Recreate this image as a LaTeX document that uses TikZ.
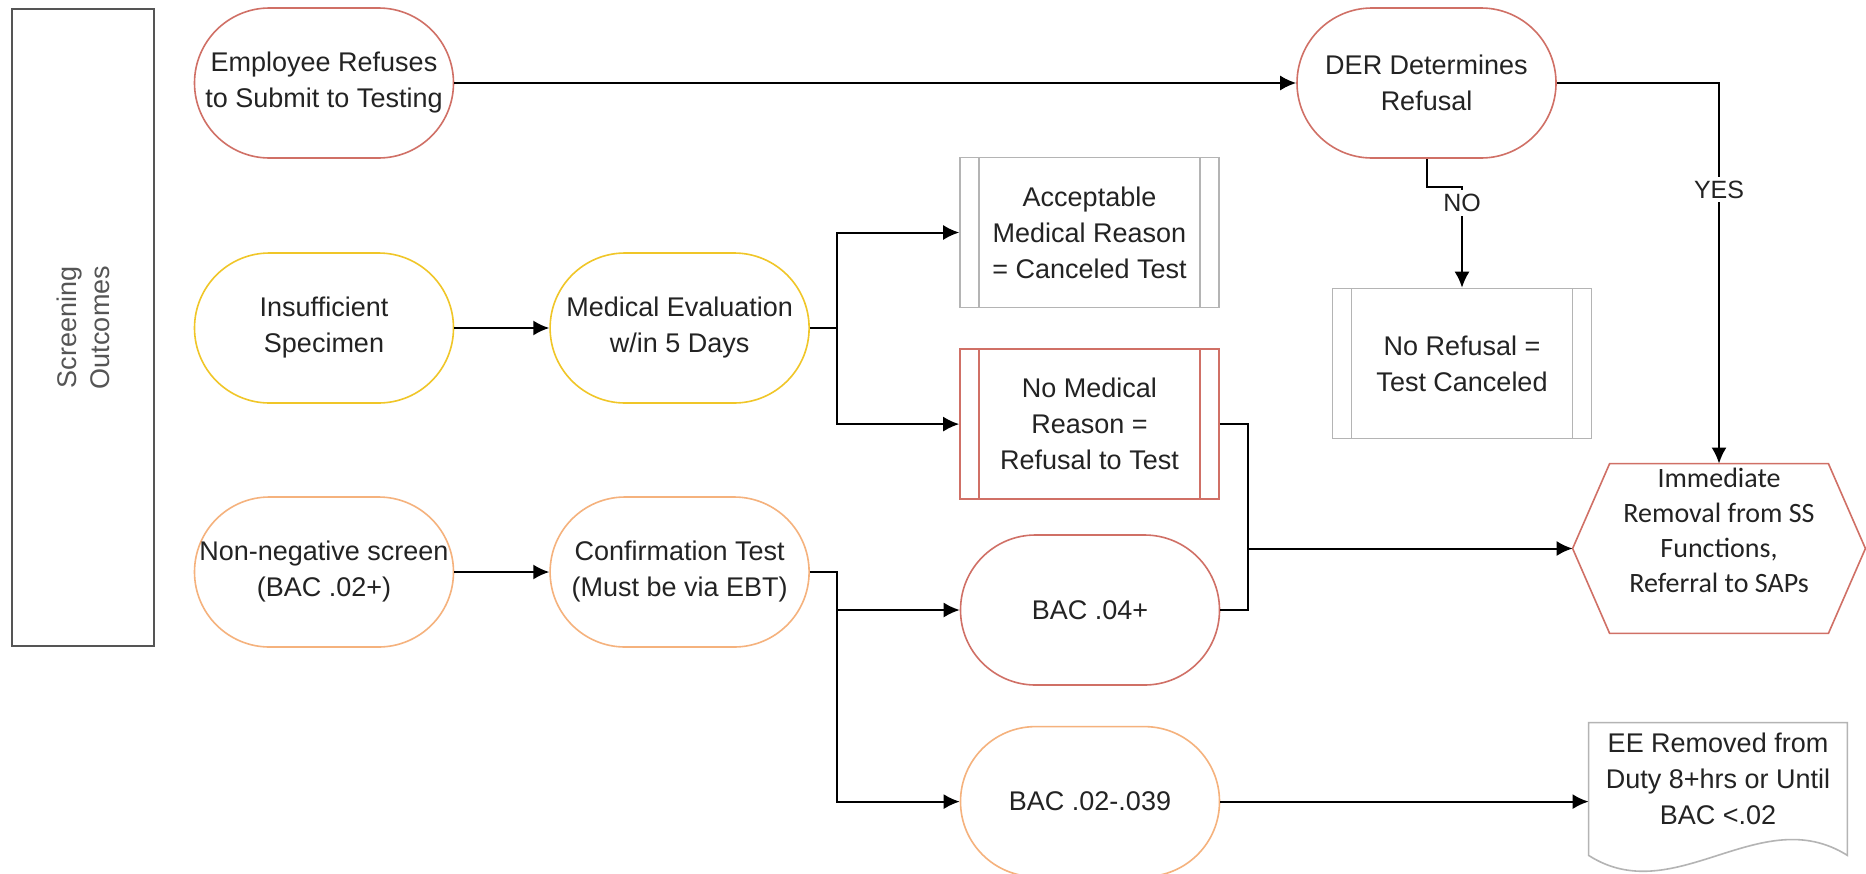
\documentclass[tikz,border=0pt]{standalone}
\usepackage{fontspec}
\setmainfont{Liberation Sans}
\newfontfamily\carlito{Carlito}
\usepackage{tikz}
\usetikzlibrary{arrows.meta,positioning}
\definecolor{refusered}{RGB}{208,112,102}
\definecolor{specyellow}{RGB}{240,198,40}
\definecolor{bacorange}{RGB}{245,178,125}
\definecolor{boxgray}{RGB}{180,180,180}
\definecolor{framegray}{RGB}{85,85,85}
\definecolor{inkgray}{RGB}{35,35,35}

\begin{document}
\begin{tikzpicture}[
    x=0.5pt, y=-0.5pt,
    node distance=47.5pt,
    font=\fontsize{13.5}{18}\selectfont,
    text=inkgray,
    term/.style = {draw=#1, line width=0.8pt, rounded corners=37.5pt, align=center, minimum width=129.5pt, minimum height=75pt, inner sep=1pt},
    predef/.style = {draw=#1, line width=0.8pt, align=center, minimum width=129.5pt, minimum height=75pt, inner sep=1pt,
      path picture={\draw[#1, line width=0.8pt]
        ([xshift=9.5pt]path picture bounding box.north west) -- ([xshift=9.5pt]path picture bounding box.south west)
        ([xshift=-9.5pt]path picture bounding box.north east) -- ([xshift=-9.5pt]path picture bounding box.south east);}},
    lbl/.style = {fill=white, inner sep=2pt, font=\fontsize{12.5}{15}\selectfont},
    flow/.style = {line width=1pt, ->},
    >={Latex[length=8pt, width=7.5pt]}
  ]
  \path[use as bounding box, fill=white] (0,0) rectangle (1866,873);

  \node[draw=framegray, line width=0.9pt, rotate=90, minimum width=318.5pt, minimum height=71pt, align=center,
    text=framegray, font=\fontsize{13.5}{16.5}\selectfont] (frame) at (83,327.5) {Screening\\Outcomes};

  \node[term=refusered] (refuse) at (324,83) {Employee Refuses\\to Submit to Testing};
  \node[term=refusered] (der) at (1426.5,83) {DER Determines\\Refusal};
  \node[term=specyellow] (insuf) at (324,328) {Insufficient\\Specimen};
  \node[term=specyellow, right=of insuf] (medeval) {Medical Evaluation\\w/in 5 Days};
  \node[term=bacorange] (nonneg) at (324,572) {Non-negative screen\\(BAC .02+)};
  \node[term=bacorange, right=of nonneg] (confirm) {Confirmation Test\\(Must be via EBT)};

  \node[predef=boxgray] (accept) at (1089.5,232.5) {Acceptable\\Medical Reason\\= Canceled Test};
  \node[predef=refusered, below=20pt of accept] (nomed) {No Medical\\Reason =\\Refusal to Test};
  \node[predef=boxgray] (norefusal) at (1462,363.5) {No Refusal =\\Test Canceled};

  \node[term=refusered] (bac4) at (1090,610) {BAC .04+};
  \node[term=bacorange, below=20pt of bac4] (bac2) {BAC .02-.039};

  \node[minimum width=146pt, minimum height=84.5pt, inner sep=0pt] (removal) at (1719,548.5) {};
  \draw[refusered, line width=0.8pt] (removal.west) -- ([xshift=18.5pt]removal.north west)
    -- ([xshift=-18.5pt]removal.north east) -- (removal.east)
    -- ([xshift=-18.5pt]removal.south east) -- ([xshift=18.5pt]removal.south west) -- cycle;
  \node[align=center, font=\carlito\fontsize{14}{17.5}\selectfont] (removaltxt) at ([yshift=9pt]removal.center)
    {Immediate\\Removal from SS\\Functions,\\Referral to SAPs};

  \node[minimum width=129pt, minimum height=56pt, inner sep=0pt, align=center] (eedoc) at (1718,779)
    {EE Removed from\\Duty 8+hrs or Until\\BAC <.02};
  \draw[boxgray, line width=0.8pt] (eedoc.north west) -- ([yshift=-10pt]eedoc.south west)
    .. controls +(86,55) and +(-87,-55) .. ([yshift=-10pt]eedoc.south east) -- (eedoc.north east) -- cycle;

  \draw[flow] (refuse) -- (der);
  \draw[flow] (der.east) -| node[lbl, pos=0.64] {YES} (removal.north);
  \draw[flow] (der.south) -- ++(0,28) -| node[lbl, pos=0.58] {NO} (norefusal.north);
  \draw[flow] (insuf) -- (medeval);
  \draw[flow] (medeval.east) -- ++(27,0) |- (accept.west);
  \draw[flow] (medeval.east) -- ++(27,0) |- (nomed.west);
  \draw[flow] (nonneg) -- (confirm);
  \draw[flow] (confirm.east) -- ++(27,0) |- (bac4.west);
  \draw[flow] (confirm.east) -- ++(27,0) |- (bac2.west);
  \draw[line width=1pt] (nomed.east) -- ++(28,0) coordinate (merge) |- (bac4.east);
  \draw[flow] (merge |- removal.west) -- (removal.west);
  \draw[flow] (bac2) -- (bac2 -| eedoc.west);
\end{tikzpicture}
\end{document}
